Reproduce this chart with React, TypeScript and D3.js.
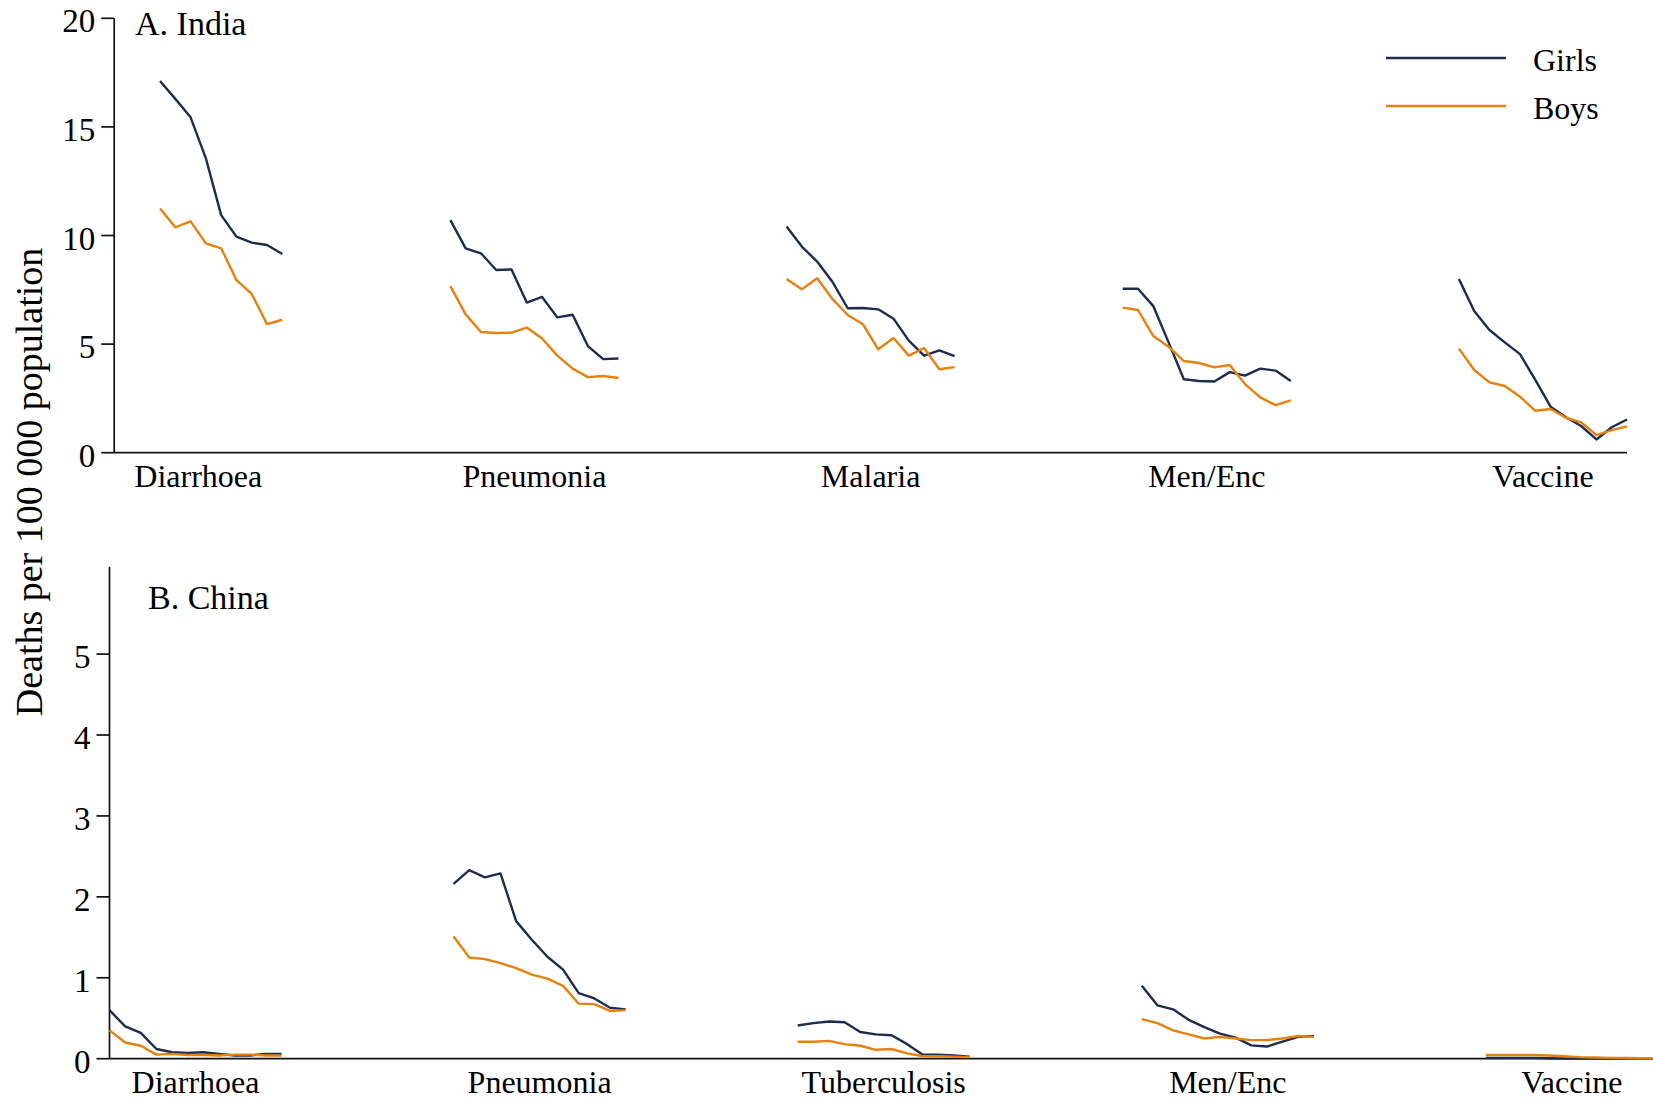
import React, { useEffect, useRef } from "react";
import * as d3 from "d3";

// twelve yearly points per cause, drawn side by side along one x axis
const yearSlots = [0, 1, 2, 3, 4, 5, 6, 7, 8, 9, 10, 11];
const indiaCauses = ["Diarrhoea", "Pneumonia", "Malaria", "Men/Enc", "Vaccine"];
const chinaCauses = ["Diarrhoea", "Pneumonia", "Tuberculosis", "Men/Enc", "Vaccine"];

const indiaGirls = [
  [null, null, null, 17.11, 16.29, 15.44, 13.55, 10.94, 9.95, 9.67, 9.56, 9.15],
  [10.71, 9.41, 9.18, 8.41, 8.44, 6.91, 7.17, 6.23, 6.35, 4.91, 4.31, 4.34],
  [10.41, 9.49, 8.8, 7.87, 6.65, 6.66, 6.6, 6.17, 5.16, 4.47, 4.71, 4.45],
  [7.55, 7.55, 6.75, 5.08, 3.38, 3.3, 3.28, 3.71, 3.55, 3.87, 3.78, 3.3],
  [8.0, 6.52, 5.65, 5.08, 4.54, 3.35, 2.12, 1.63, 1.23, 0.61, 1.17, 1.53],
];
const indiaBoys = [
  [null, null, null, 11.24, 10.38, 10.65, 9.64, 9.41, 7.95, 7.31, 5.92, 6.12],
  [7.67, 6.37, 5.56, 5.51, 5.53, 5.76, 5.26, 4.47, 3.87, 3.48, 3.53, 3.44],
  [8.0, 7.52, 8.03, 7.08, 6.34, 5.91, 4.76, 5.28, 4.47, 4.82, 3.84, 3.94],
  [6.68, 6.57, 5.37, 4.88, 4.22, 4.13, 3.93, 4.04, 3.16, 2.55, 2.19, 2.41],
  [4.79, 3.81, 3.24, 3.07, 2.58, 1.93, 2.01, 1.61, 1.4, 0.81, 1.04, 1.21],
];
const chinaGirls = [
  [0.6, 0.4, 0.32, 0.12, 0.08, 0.07, 0.08, 0.06, 0.04, 0.04, 0.06, 0.06],
  [2.16, 2.33, 2.24, 2.29, 1.7, 1.47, 1.26, 1.1, 0.81, 0.745, 0.63, 0.61],
  [0.41, 0.44, 0.46, 0.45, 0.33, 0.3, 0.29, 0.18, 0.05, 0.05, 0.04, 0.025],
  [0.9, 0.66, 0.61, 0.48, 0.39, 0.31, 0.26, 0.165, 0.15, 0.21, 0.27, 0.28],
  [0.01, 0.01, 0.01, 0.01, 0.005, 0.003, 0.002, 0.002, 0.002, 0.002, 0.002, 0.002],
];
const chinaBoys = [
  [0.35, 0.2, 0.16, 0.05, 0.06, 0.045, 0.045, 0.04, 0.05, 0.05, 0.04, 0.04],
  [1.51, 1.25, 1.23, 1.18, 1.12, 1.04, 0.99, 0.9, 0.68, 0.675, 0.59, 0.6],
  [0.21, 0.21, 0.22, 0.18, 0.16, 0.11, 0.12, 0.066, 0.03, 0.03, 0.025, 0.02],
  [0.49, 0.44, 0.35, 0.3, 0.25, 0.27, 0.25, 0.23, 0.23, 0.25, 0.28, 0.27],
  [0.045, 0.045, 0.046, 0.046, 0.04, 0.03, 0.02, 0.015, 0.01, 0.008, 0.006, 0.005],
];
const indiaTicks = [0, 5, 10, 15, 20];
const chinaTicks = [0, 1, 2, 3, 4, 5];
const seriesNames = ["Girls", "Boys"];
const seriesColors = ["#1d2c50", "#e8800c"];

const FONT = "'Liberation Serif', 'Times New Roman', serif";
const SLOT = 22; // x units per cause group

function App() {
  const svgRef = useRef(null);

  useEffect(() => {
    document.body.style.margin = "0";
    const svg = d3.select(svgRef.current);
    svg.selectAll("*").remove();

    const panels = [
      {
        title: "A. India", causes: indiaCauses, girls: indiaGirls, boys: indiaBoys, ticks: indiaTicks,
        x: d3.scaleLinear().domain([0, 99]).range([114.2, 1627]),
        y: d3.scaleLinear().domain([0, 20]).range([452.7, 18.3]),
        titleX: 135, titleY: 35,
      },
      {
        title: "B. China", causes: chinaCauses, girls: chinaGirls, boys: chinaBoys, ticks: chinaTicks,
        x: d3.scaleLinear().domain([0, 99]).range([109.5, 1657.9]),
        y: d3.scaleLinear().domain([0, 6.08]).range([1058.7, 566.7]),
        titleX: 148, titleY: 609,
      },
    ];

    panels.forEach(p => {
      const g = svg.append("g");
      const [y0, y1] = p.y.range();
      const x0 = p.x.range()[0];

      // y axis line and ticks
      g.append("line")
        .attr("x1", x0).attr("x2", x0).attr("y1", y0).attr("y2", y1)
        .attr("stroke", "#111").attr("stroke-width", 1.7);
      p.ticks.forEach(t => {
        g.append("line")
          .attr("x1", x0 - 13).attr("x2", x0).attr("y1", p.y(t)).attr("y2", p.y(t))
          .attr("stroke", "#111").attr("stroke-width", 1.7);
        g.append("text")
          .attr("x", x0 - 19).attr("y", p.y(t) + 3)
          .attr("text-anchor", "end").attr("dominant-baseline", "central")
          .attr("font-family", FONT).attr("font-size", 33)
          .text(t);
      });

      // x axis
      g.append("line")
        .attr("x1", x0).attr("x2", p.x.range()[1]).attr("y1", y0).attr("y2", y0)
        .attr("stroke", "#111").attr("stroke-width", 1.8);
      g.selectAll(".cat")
        .data(p.causes)
        .enter().append("text")
        .attr("x", (d, i) => p.x(i * SLOT + 5.5))
        .attr("y", y0 + 34)
        .attr("text-anchor", "middle")
        .attr("font-family", FONT).attr("font-size", 32)
        .text(d => d);

      g.append("text")
        .attr("x", p.titleX).attr("y", p.titleY)
        .attr("font-family", FONT).attr("font-size", 34)
        .text(p.title);

      const line = d3.line()
        .defined(d => d.v != null)
        .x(d => p.x(d.pos))
        .y(d => p.y(d.v));

      [p.girls, p.boys].forEach((series, si) => {
        series.forEach((vals, ci) => {
          const pts = yearSlots.map((yr, k) => ({ pos: ci * SLOT + yr, v: vals[k] }));
          g.append("path")
            .attr("d", line(pts))
            .attr("fill", "none")
            .attr("stroke", seriesColors[si])
            .attr("stroke-width", 2.4)
            .attr("stroke-linejoin", "round");
        });
      });
    });

    // y axis title shared by both panels
    svg.append("text")
      .attr("transform", "translate(42,482) rotate(-90)")
      .attr("text-anchor", "middle")
      .attr("font-family", FONT).attr("font-size", 38)
      .text("Deaths per 100 000 population");

    // legend
    const legend = svg.append("g")
      .selectAll(".legend")
      .data(seriesNames)
      .enter().append("g")
      .attr("transform", (d, i) => `translate(1386, ${58 + i * 48})`);
    legend.append("line")
      .attr("x1", 0).attr("x2", 120)
      .attr("stroke", (d, i) => seriesColors[i])
      .attr("stroke-width", 2.4);
    legend.append("text")
      .attr("x", 147).attr("y", 2)
      .attr("dominant-baseline", "central")
      .attr("font-family", FONT).attr("font-size", 32)
      .text(d => d);
  }, []);

  return <svg ref={svgRef} width={1653} height={1103} style={{ display: "block", background: "#fff" }}></svg>;
}

export default App;
